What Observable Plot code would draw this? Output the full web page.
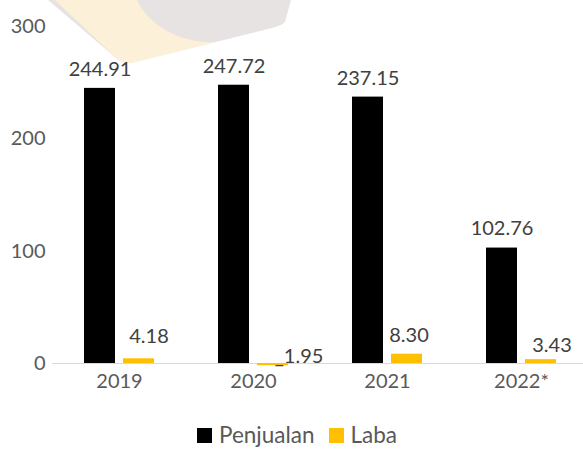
<!DOCTYPE html>
<html>
<head>
<meta charset="utf-8">
<script src="https://cdn.jsdelivr.net/npm/d3@7"></script>
<script src="https://cdn.jsdelivr.net/npm/@observablehq/plot@0.6"></script>
<style>
  html, body { margin: 0; padding: 0; background: #fff; }
  #wrap { position: relative; width: 583px; height: 449px; overflow: hidden; font-family: Lato, sans-serif; }
  #wm { position: absolute; left: 0; top: 0; z-index: 0; }
  #chart { position: relative; z-index: 1; }
  #legend { display: flex; justify-content: center; align-items: center; margin-top: 14px; padding-left: 11px; font-family: Lato, sans-serif; font-size: 22.5px; color: #595959; line-height: 1; }
  #legend .item { display: inline-flex; align-items: center; margin: 0 7px; }
  #legend .sw { width: 15px; height: 15px; margin-right: 7px; display: inline-block; }
</style>
</head>
<body>
<div id="wrap">
  <svg id="wm" width="583" height="120">
    <path d="M48,0 L291,0 L285,22 Q283,25 272,28 L135,62 Q124,65 116,58 Z" fill="#e6e3e2"/>
    <path d="M55,0 L137,0 C150,28 185,44 216,42 L135,62 Q124,65 116,58 Z" fill="#fcf0d8"/>
  </svg>
  <div id="chart"></div>
</div>
<script>
const years = ["2019", "2020", "2021", "2022*"];
const series = ["Penjualan", "Laba"];
const penjualan = [244.91, 247.72, 237.15, 102.76];
const laba = [4.18, -1.95, 8.30, 3.43];
const penjualanLabels = ["244.91", "247.72", "237.15", "102.76"];
const labaLabels = ["4.18", "_1.95", "8.30", "3.43"];
const yTicks = [0, 100, 200, 300];
const colors = ["#000000", "#FFC000"];

const rows = [];
years.forEach((y, i) => {
  rows.push({year: y, series: "Penjualan", value: penjualan[i], label: penjualanLabels[i]});
  rows.push({year: y, series: "Laba", value: laba[i], label: labaLabels[i]});
});

// label nudges (style only)
const labaNudge = {"2019": [10, -22], "2020": [26, -9], "2021": [2, -19], "2022*": [11, -14]};

const marks = [
  Plot.ruleY([0], {stroke: "#d9d9d9", strokeWidth: 1.2}),
  Plot.barY(rows, {fx: "year", x: "series", y: "value", fill: "series"}),
  Plot.text(rows.filter(d => d.series === "Penjualan"), {
    fx: "year", x: "series", y: "value", text: "label",
    dy: -19, lineAnchor: "middle", fill: "#404040", fontSize: 20
  }),
  ...years.map(yr => Plot.text(rows.filter(d => d.series === "Laba" && d.year === yr), {
    fx: "year", x: "series", y: "value", text: "label",
    dx: labaNudge[yr][0], dy: labaNudge[yr][1], lineAnchor: "middle", fill: "#404040", fontSize: 20
  })),
  Plot.axisY({ticks: yTicks, tickSize: 0, tickPadding: 7, fill: "#595959", fontSize: 20, label: null}),
  Plot.axisFx({anchor: "bottom", tickSize: 0, tickPadding: 10, fill: "#595959", fontSize: 20, label: null})
];

const plot = Plot.plot({
  width: 583,
  height: 410,
  marginLeft: 52,
  marginRight: -5,
  marginTop: 26,
  marginBottom: 47,
  style: {background: "transparent", fontFamily: "Lato, sans-serif", fontSize: "20px", overflow: "visible"},
  fx: {domain: years, padding: 0, label: null},
  x: {domain: series, paddingInner: 0.205, paddingOuter: 0.82, axis: null},
  y: {domain: [0, 300], axis: null},
  color: {domain: series, range: colors},
  marks
});

const chart = document.getElementById("chart");
chart.appendChild(plot);

// legend built from the plot's own color scale
const colorScale = plot.scale("color");
const legend = document.createElement("div");
legend.id = "legend";
colorScale.domain.forEach((name, i) => {
  const item = document.createElement("span");
  item.className = "item";
  const sw = document.createElement("span");
  sw.className = "sw";
  sw.style.background = colorScale.range[i];
  item.appendChild(sw);
  item.appendChild(document.createTextNode(name));
  legend.appendChild(item);
});
chart.appendChild(legend);
</script>
</body>
</html>
